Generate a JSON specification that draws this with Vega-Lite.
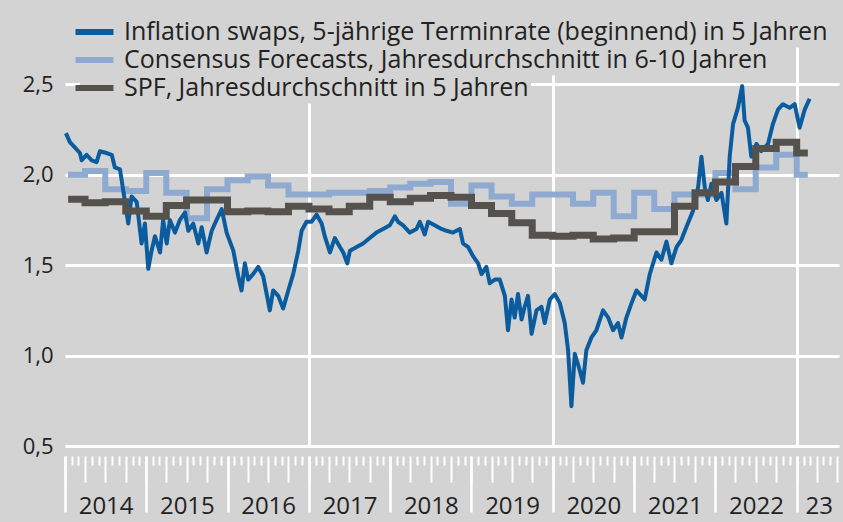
{
  "$schema": "https://vega.github.io/schema/vega-lite/v6.json",
  "width": 774,
  "height": 425,
  "autosize": "none",
  "padding": {"left": 65, "top": 21, "right": 4, "bottom": 76},
  "background": "#d3d3d3",
  "config": {"view": {"stroke": null}, "font": "Open Sans"},
  "datasets": {
    "swaps": [
      {"date": "2014-01-05", "value": 2.23}, {"date": "2014-01-23", "value": 2.18}, {"date": "2014-02-15", "value": 2.15},
      {"date": "2014-03-09", "value": 2.12}, {"date": "2014-03-17", "value": 2.08}, {"date": "2014-04-08", "value": 2.11},
      {"date": "2014-05-01", "value": 2.08}, {"date": "2014-05-23", "value": 2.07}, {"date": "2014-06-07", "value": 2.13},
      {"date": "2014-07-07", "value": 2.12}, {"date": "2014-07-30", "value": 2.11}, {"date": "2014-08-13", "value": 2.04},
      {"date": "2014-09-05", "value": 2.03}, {"date": "2014-09-20", "value": 1.91}, {"date": "2014-10-12", "value": 1.73},
      {"date": "2014-10-27", "value": 1.88}, {"date": "2014-11-19", "value": 1.85}, {"date": "2014-12-11", "value": 1.62},
      {"date": "2014-12-26", "value": 1.73}, {"date": "2015-01-10", "value": 1.48}, {"date": "2015-01-25", "value": 1.58},
      {"date": "2015-02-09", "value": 1.66}, {"date": "2015-03-04", "value": 1.57}, {"date": "2015-03-18", "value": 1.75},
      {"date": "2015-04-03", "value": 1.62}, {"date": "2015-04-17", "value": 1.75}, {"date": "2015-05-10", "value": 1.68},
      {"date": "2015-06-01", "value": 1.75}, {"date": "2015-06-24", "value": 1.79}, {"date": "2015-07-09", "value": 1.69},
      {"date": "2015-07-31", "value": 1.73}, {"date": "2015-08-23", "value": 1.62}, {"date": "2015-09-07", "value": 1.71},
      {"date": "2015-09-29", "value": 1.57}, {"date": "2015-10-22", "value": 1.69}, {"date": "2015-11-13", "value": 1.75},
      {"date": "2015-12-06", "value": 1.81}, {"date": "2015-12-28", "value": 1.68}, {"date": "2016-01-27", "value": 1.58},
      {"date": "2016-02-18", "value": 1.44}, {"date": "2016-03-04", "value": 1.36}, {"date": "2016-03-19", "value": 1.51},
      {"date": "2016-04-03", "value": 1.42}, {"date": "2016-04-25", "value": 1.45}, {"date": "2016-05-18", "value": 1.49},
      {"date": "2016-06-09", "value": 1.44}, {"date": "2016-06-25", "value": 1.34}, {"date": "2016-07-09", "value": 1.25},
      {"date": "2016-07-24", "value": 1.36}, {"date": "2016-08-16", "value": 1.33}, {"date": "2016-09-07", "value": 1.26},
      {"date": "2016-09-30", "value": 1.36}, {"date": "2016-10-22", "value": 1.45}, {"date": "2016-11-14", "value": 1.58},
      {"date": "2016-11-29", "value": 1.69}, {"date": "2016-12-21", "value": 1.74}, {"date": "2017-01-13", "value": 1.74},
      {"date": "2017-02-04", "value": 1.78}, {"date": "2017-02-27", "value": 1.73}, {"date": "2017-03-13", "value": 1.66},
      {"date": "2017-04-05", "value": 1.57}, {"date": "2017-04-27", "value": 1.65}, {"date": "2017-05-20", "value": 1.60},
      {"date": "2017-06-04", "value": 1.57}, {"date": "2017-06-22", "value": 1.51}, {"date": "2017-07-04", "value": 1.58},
      {"date": "2017-08-03", "value": 1.60}, {"date": "2017-09-01", "value": 1.62}, {"date": "2017-10-01", "value": 1.65},
      {"date": "2017-10-31", "value": 1.68}, {"date": "2017-11-30", "value": 1.70}, {"date": "2017-12-30", "value": 1.72},
      {"date": "2018-01-22", "value": 1.77}, {"date": "2018-02-05", "value": 1.74}, {"date": "2018-02-28", "value": 1.72},
      {"date": "2018-03-30", "value": 1.68}, {"date": "2018-04-29", "value": 1.70}, {"date": "2018-05-14", "value": 1.74},
      {"date": "2018-06-05", "value": 1.67}, {"date": "2018-06-20", "value": 1.74}, {"date": "2018-07-20", "value": 1.72},
      {"date": "2018-08-19", "value": 1.70}, {"date": "2018-09-11", "value": 1.69}, {"date": "2018-10-10", "value": 1.68},
      {"date": "2018-11-10", "value": 1.70}, {"date": "2018-11-24", "value": 1.62}, {"date": "2018-12-17", "value": 1.60},
      {"date": "2019-01-08", "value": 1.55}, {"date": "2019-01-31", "value": 1.51}, {"date": "2019-02-15", "value": 1.45},
      {"date": "2019-03-09", "value": 1.49}, {"date": "2019-03-24", "value": 1.40}, {"date": "2019-04-16", "value": 1.42},
      {"date": "2019-05-08", "value": 1.42}, {"date": "2019-05-31", "value": 1.33}, {"date": "2019-06-14", "value": 1.14},
      {"date": "2019-06-30", "value": 1.31}, {"date": "2019-07-14", "value": 1.21}, {"date": "2019-07-29", "value": 1.34},
      {"date": "2019-08-14", "value": 1.20}, {"date": "2019-08-28", "value": 1.27}, {"date": "2019-09-12", "value": 1.33},
      {"date": "2019-09-28", "value": 1.12}, {"date": "2019-10-20", "value": 1.25}, {"date": "2019-11-11", "value": 1.27},
      {"date": "2019-11-26", "value": 1.18}, {"date": "2019-12-19", "value": 1.31}, {"date": "2020-01-10", "value": 1.34},
      {"date": "2020-02-02", "value": 1.29}, {"date": "2020-02-24", "value": 1.18}, {"date": "2020-03-10", "value": 1.03},
      {"date": "2020-03-25", "value": 0.72}, {"date": "2020-04-09", "value": 1.01}, {"date": "2020-05-01", "value": 0.92},
      {"date": "2020-05-16", "value": 0.85}, {"date": "2020-05-31", "value": 1.03}, {"date": "2020-06-23", "value": 1.10},
      {"date": "2020-07-15", "value": 1.14}, {"date": "2020-08-14", "value": 1.25}, {"date": "2020-09-06", "value": 1.21},
      {"date": "2020-09-28", "value": 1.14}, {"date": "2020-10-20", "value": 1.18}, {"date": "2020-11-05", "value": 1.10},
      {"date": "2020-11-27", "value": 1.21}, {"date": "2020-12-20", "value": 1.29}, {"date": "2021-01-11", "value": 1.36},
      {"date": "2021-02-17", "value": 1.31}, {"date": "2021-03-12", "value": 1.45}, {"date": "2021-04-11", "value": 1.57},
      {"date": "2021-05-03", "value": 1.53}, {"date": "2021-05-26", "value": 1.63}, {"date": "2021-06-17", "value": 1.51},
      {"date": "2021-07-10", "value": 1.60}, {"date": "2021-08-01", "value": 1.64}, {"date": "2021-08-23", "value": 1.71},
      {"date": "2021-09-22", "value": 1.80}, {"date": "2021-10-15", "value": 1.93}, {"date": "2021-10-30", "value": 2.10},
      {"date": "2021-11-14", "value": 1.93}, {"date": "2021-11-28", "value": 1.86}, {"date": "2021-12-14", "value": 1.95},
      {"date": "2022-01-05", "value": 1.86}, {"date": "2022-01-28", "value": 1.90}, {"date": "2022-02-19", "value": 1.73},
      {"date": "2022-03-06", "value": 2.10}, {"date": "2022-03-21", "value": 2.28}, {"date": "2022-04-12", "value": 2.37},
      {"date": "2022-05-01", "value": 2.49}, {"date": "2022-05-12", "value": 2.30}, {"date": "2022-05-27", "value": 2.26},
      {"date": "2022-06-11", "value": 2.10}, {"date": "2022-07-04", "value": 2.17}, {"date": "2022-07-26", "value": 2.13},
      {"date": "2022-08-25", "value": 2.17}, {"date": "2022-09-16", "value": 2.28}, {"date": "2022-10-09", "value": 2.36},
      {"date": "2022-10-31", "value": 2.39}, {"date": "2022-11-30", "value": 2.37}, {"date": "2022-12-23", "value": 2.39},
      {"date": "2023-01-14", "value": 2.26}, {"date": "2023-02-06", "value": 2.36}, {"date": "2023-02-28", "value": 2.42}
    ],
    "consensus": [
      {"date": "2014-01-15", "value": 2.00}, {"date": "2014-04-01", "value": 2.02}, {"date": "2014-07-01", "value": 1.92},
      {"date": "2014-10-01", "value": 1.91}, {"date": "2015-01-01", "value": 2.01}, {"date": "2015-04-01", "value": 1.90},
      {"date": "2015-07-01", "value": 1.76}, {"date": "2015-10-01", "value": 1.92}, {"date": "2016-01-01", "value": 1.97},
      {"date": "2016-04-01", "value": 1.99}, {"date": "2016-07-01", "value": 1.94}, {"date": "2016-10-01", "value": 1.89},
      {"date": "2017-01-01", "value": 1.89}, {"date": "2017-04-01", "value": 1.90}, {"date": "2017-07-01", "value": 1.90},
      {"date": "2017-10-01", "value": 1.91}, {"date": "2018-01-01", "value": 1.93}, {"date": "2018-04-01", "value": 1.95},
      {"date": "2018-07-01", "value": 1.96}, {"date": "2018-10-01", "value": 1.84}, {"date": "2019-01-01", "value": 1.94},
      {"date": "2019-04-01", "value": 1.88}, {"date": "2019-07-01", "value": 1.84}, {"date": "2019-10-01", "value": 1.89},
      {"date": "2020-01-01", "value": 1.89}, {"date": "2020-04-01", "value": 1.84}, {"date": "2020-07-01", "value": 1.90},
      {"date": "2020-10-01", "value": 1.77}, {"date": "2021-01-01", "value": 1.90}, {"date": "2021-04-01", "value": 1.81},
      {"date": "2021-07-01", "value": 1.89}, {"date": "2021-10-01", "value": 1.89}, {"date": "2022-01-01", "value": 2.01},
      {"date": "2022-04-01", "value": 1.92}, {"date": "2022-07-01", "value": 2.04}, {"date": "2022-10-01", "value": 2.11},
      {"date": "2023-01-01", "value": 2.00}, {"date": "2023-02-20", "value": 2.00}
    ],
    "spf": [
      {"date": "2014-01-15", "value": 1.865}, {"date": "2014-04-01", "value": 1.845}, {"date": "2014-07-01", "value": 1.85},
      {"date": "2014-10-01", "value": 1.80}, {"date": "2015-01-01", "value": 1.77}, {"date": "2015-04-01", "value": 1.83},
      {"date": "2015-07-01", "value": 1.86}, {"date": "2015-10-01", "value": 1.86}, {"date": "2016-01-01", "value": 1.795},
      {"date": "2016-04-01", "value": 1.80}, {"date": "2016-07-01", "value": 1.795}, {"date": "2016-10-01", "value": 1.825},
      {"date": "2017-01-01", "value": 1.81}, {"date": "2017-04-01", "value": 1.795}, {"date": "2017-07-01", "value": 1.825},
      {"date": "2017-10-01", "value": 1.875}, {"date": "2018-01-01", "value": 1.85}, {"date": "2018-04-01", "value": 1.87},
      {"date": "2018-07-01", "value": 1.885}, {"date": "2018-10-01", "value": 1.875}, {"date": "2019-01-01", "value": 1.83},
      {"date": "2019-04-01", "value": 1.785}, {"date": "2019-07-01", "value": 1.735}, {"date": "2019-10-01", "value": 1.665},
      {"date": "2020-01-01", "value": 1.66}, {"date": "2020-04-01", "value": 1.665}, {"date": "2020-07-01", "value": 1.645},
      {"date": "2020-10-01", "value": 1.65}, {"date": "2021-01-01", "value": 1.685}, {"date": "2021-04-01", "value": 1.685},
      {"date": "2021-07-01", "value": 1.825}, {"date": "2021-10-01", "value": 1.90}, {"date": "2022-01-01", "value": 1.96},
      {"date": "2022-04-01", "value": 2.045}, {"date": "2022-07-01", "value": 2.145}, {"date": "2022-10-01", "value": 2.18},
      {"date": "2023-01-01", "value": 2.12}, {"date": "2023-02-20", "value": 2.12}
    ]
  },
  "encoding": {
    "y": {
      "field": "value", "type": "quantitative",
      "scale": {"domain": [0.5, 2.85], "nice": false, "zero": false},
      "axis": {
        "values": [0.5, 1, 1.5, 2, 2.5], "grid": true, "gridColor": "#ffffff", "gridWidth": 3,
        "ticks": false, "domain": false, "title": null,
        "labelExpr": "replace(format(datum.value, '.1f'), '.', ',')",
        "labelFontSize": 22, "labelColor": "#222222", "labelPadding": 12
      }
    }
  },
  "resolve": {"scale": {"color": "independent"}, "axis": {"x": "independent"}},
  "layer": [
    {
      "data": {"name": "consensus"},
      "mark": {"type": "line", "interpolate": "step-after", "strokeWidth": 6, "strokeCap": "butt"},
      "encoding": {
        "x": {
          "field": "date", "type": "temporal",
          "scale": {"type": "utc", "domain": [1388534400000, 1688947200000]},
          "axis": {"orient": "bottom", "values": [1483228800000, 1577836800000, 1672531200000], "grid": true, "gridColor": "#ffffff", "gridWidth": 3,
                   "ticks": false, "labels": false, "domain": false, "title": null}
        },
        "color": {
          "datum": "Consensus Forecasts, Jahresdurchschnitt in 6-10 Jahren",
          "scale": {"range": ["#8eaad0"]},
          "legend": {"orient": "none", "legendX": 15, "legendY": 24.5, "fillColor": "#d3d3d3", "padding": 2,
                     "symbolType": "M-4,0H4", "symbolSize": 90, "symbolStrokeWidth": 6, "labelFontSize": 25,
                     "labelColor": "#222222", "labelLimit": 0, "labelOffset": 17, "title": null}
        }
      }
    },
    {
      "data": {"name": "swaps"},
      "mark": {"type": "line", "strokeWidth": 4, "strokeJoin": "round"},
      "encoding": {
        "x": {
          "field": "date", "type": "temporal",
          "scale": {"type": "utc", "domain": [1388534400000, 1688947200000]},
          "axis": {"orient": "bottom", "tickCount": {"interval": "month", "step": 1},
                   "tickSize": {"condition": {"test": "utcmonth(datum.value) % 3 == 0", "value": 26}, "value": 9},
                   "tickColor": "#ffffff", "tickWidth": 2, "labels": false, "domain": false, "grid": false,
                   "offset": 10, "title": null}
        },
        "color": {
          "datum": "Inflation swaps, 5-jährige Terminrate (beginnend) in 5 Jahren",
          "scale": {"range": ["#0b5c9e"]},
          "legend": {"orient": "none", "legendX": 15, "legendY": -3.5, "fillColor": "#d3d3d3", "padding": 2,
                     "symbolType": "M-4,0H4", "symbolSize": 90, "symbolStrokeWidth": 6, "labelFontSize": 25,
                     "labelColor": "#222222", "labelLimit": 0, "labelOffset": 17, "title": null}
        }
      }
    },
    {
      "data": {"name": "spf"},
      "mark": {"type": "line", "interpolate": "step-after", "strokeWidth": 7, "strokeCap": "butt"},
      "encoding": {
        "x": {
          "field": "date", "type": "temporal",
          "scale": {"type": "utc", "domain": [1388534400000, 1688947200000]},
          "axis": {"orient": "bottom", "tickCount": {"interval": "year", "step": 1}, "tickSize": 56, "tickColor": "#ffffff", "tickWidth": 2.5,
                   "domain": false, "grid": false, "offset": 10, "title": null,
                   "labelExpr": "utcyear(datum.value) == 2023 ? '23' : utcFormat(datum.value, '%Y')",
                   "labelOffset": {"condition": {"test": "utcyear(datum.value) == 2023", "value": 22}, "value": 40.6},
                   "labelAlign": "center", "labelBaseline": "alphabetic", "labelPadding": 1,
                   "labelFontSize": 24, "labelColor": "#222222", "labelOverlap": false, "labelFlush": false, "labelBound": false}
        },
        "color": {
          "datum": "SPF, Jahresdurchschnitt in 5 Jahren",
          "scale": {"range": ["#55514d"]},
          "legend": {"orient": "none", "legendX": 15, "legendY": 52.5, "fillColor": "#d3d3d3", "padding": 2,
                     "symbolType": "M-4,0H4", "symbolSize": 90, "symbolStrokeWidth": 6, "labelFontSize": 25,
                     "labelColor": "#222222", "labelLimit": 0, "labelOffset": 17, "title": null}
        }
      }
    }
  ]
}
